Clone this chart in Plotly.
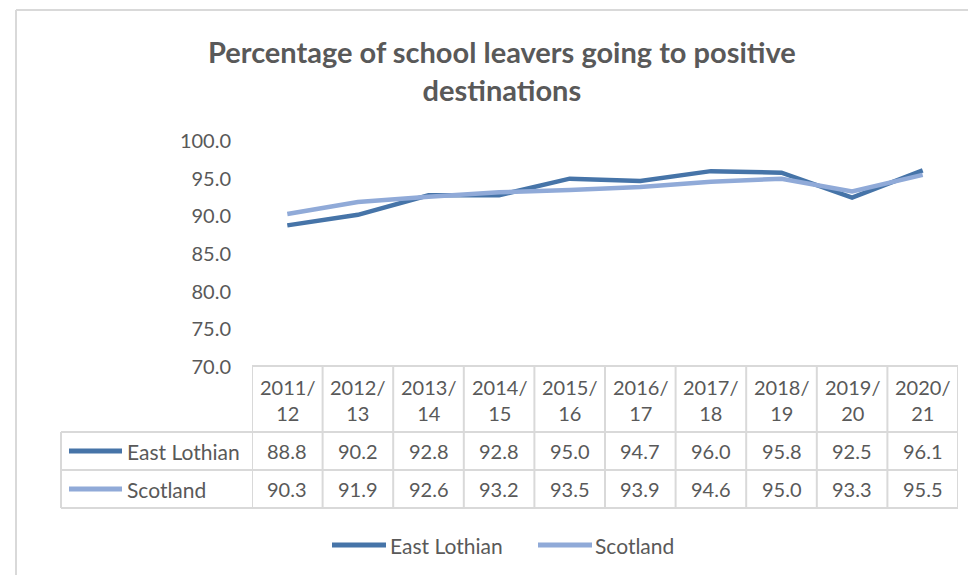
import plotly.graph_objects as go

# ---------------- data ----------------
categories = ["2011/12", "2012/13", "2013/14", "2014/15", "2015/16",
              "2016/17", "2017/18", "2018/19", "2019/20", "2020/21"]
east_lothian = [88.8, 90.2, 92.8, 92.8, 95.0, 94.7, 96.0, 95.8, 92.5, 96.1]
scotland = [90.3, 91.9, 92.6, 93.2, 93.5, 93.9, 94.6, 95.0, 93.3, 95.5]
series_names = ["East Lothian", "Scotland"]
y_ticks = [70, 75, 80, 85, 90, 95, 100]
title_text = "Percentage of school leavers going to positive<br>destinations"

# ---------------- styling ----------------
W, H = 968, 575
L, R, T, B = 252, 958, 141, 367
COLORS = ["#4674A8", "#90AAD8"]
TXT = "#595959"
GRID = "#D9D9D9"
FONT = "Lato"


def px(p):
    return (p - L) / (R - L)


def py(p):
    return (B - p) / (B - T)


series = [east_lothian, scotland]
x_idx = list(range(len(categories)))

fig = go.Figure()
for name, vals, col in zip(series_names, series, COLORS):
    fig.add_trace(go.Scatter(
        x=x_idx, y=vals, mode="lines", name=name,
        line=dict(color=col, width=4.5), showlegend=False,
        hoverinfo="x+y+name"))

shapes = []
annotations = []

# outer chart frame (left & top edges visible)
shapes.append(dict(type="line", xref="paper", yref="paper",
                   x0=px(16), x1=px(16), y0=py(10), y1=py(H + 5),
                   line=dict(color=GRID, width=2)))
shapes.append(dict(type="line", xref="paper", yref="paper",
                   x0=px(16), x1=px(W + 5), y0=py(10), y1=py(10),
                   line=dict(color=GRID, width=2)))

# title
annotations.append(dict(x=px(502), y=py(71), xref="paper", yref="paper",
                        text=title_text, showarrow=False,
                        font=dict(family=FONT, size=29, color=TXT, weight="bold"),
                        xanchor="center", yanchor="middle", align="center"))

# data table
hdr_top, hdr_bot, row1_bot, row2_bot = 366, 432, 470, 508
row_centers = [451, 489]
n = len(categories)
for i in range(n + 1):
    shapes.append(dict(type="line", xref="x", yref="paper",
                       x0=i - 0.5, x1=i - 0.5, y0=py(hdr_top), y1=py(row2_bot),
                       line=dict(color=GRID, width=2)))
shapes.append(dict(type="line", xref="x", yref="paper",
                   x0=-0.5, x1=n - 0.5, y0=py(hdr_top), y1=py(hdr_top),
                   line=dict(color=GRID, width=2)))
for yy in [hdr_bot, row1_bot, row2_bot]:
    shapes.append(dict(type="line", xref="paper", yref="paper",
                       x0=px(61), x1=1, y0=py(yy), y1=py(yy),
                       line=dict(color=GRID, width=2)))
shapes.append(dict(type="line", xref="paper", yref="paper",
                   x0=px(61), x1=px(61), y0=py(hdr_bot), y1=py(row2_bot),
                   line=dict(color=GRID, width=2)))

# header labels
for i, c in enumerate(categories):
    a, b = c.split("/")
    annotations.append(dict(x=i, y=py(400), xref="x", yref="paper",
                            text=f"{a}/<br>{b}", showarrow=False,
                            font=dict(family=FONT, size=20, color=TXT),
                            xanchor="center", yanchor="middle"))

# rows
for r, (name, vals, col) in enumerate(zip(series_names, series, COLORS)):
    yc = row_centers[r]
    shapes.append(dict(type="line", xref="paper", yref="paper",
                       x0=px(69), x1=px(122), y0=py(yc), y1=py(yc),
                       line=dict(color=col, width=5)))
    annotations.append(dict(x=px(125), y=py(yc), xref="paper", yref="paper",
                            text=name, showarrow=False,
                            font=dict(family=FONT, size=21, color=TXT),
                            xanchor="left", yanchor="middle"))
    for i, v in enumerate(vals):
        annotations.append(dict(x=i, y=py(yc), xref="x", yref="paper",
                                text=f"{v:.1f}", showarrow=False,
                                font=dict(family=FONT, size=20, color=TXT),
                                xanchor="center", yanchor="middle"))

# bottom legend
leg_y = 545
leg_pos = [(332, 386, 388), (538, 592, 593)]
for (x0, x1, xt), name, col in zip(leg_pos, series_names, COLORS):
    shapes.append(dict(type="line", xref="paper", yref="paper",
                       x0=px(x0), x1=px(x1), y0=py(leg_y), y1=py(leg_y),
                       line=dict(color=col, width=5)))
    annotations.append(dict(x=px(xt), y=py(leg_y), xref="paper", yref="paper",
                            text=name, showarrow=False,
                            font=dict(family=FONT, size=21, color=TXT),
                            xanchor="left", yanchor="middle"))

fig.update_layout(
    width=W, height=H,
    margin=dict(l=L, r=W - R, t=T, b=H - B, pad=0),
    paper_bgcolor="white", plot_bgcolor="white",
    xaxis=dict(range=[-0.5, n - 0.5], showticklabels=False, showgrid=False,
               zeroline=False, showline=False, ticks=""),
    yaxis=dict(range=[70, 100], tickvals=y_ticks, tickformat=".1f",
               showgrid=False, zeroline=False, showline=False, ticks="",
               ticklabelstandoff=20,
               tickfont=dict(family=FONT, size=20, color=TXT)),
    shapes=shapes, annotations=annotations,
    font=dict(family=FONT, color=TXT),
)

fig.write_html("out.html")
